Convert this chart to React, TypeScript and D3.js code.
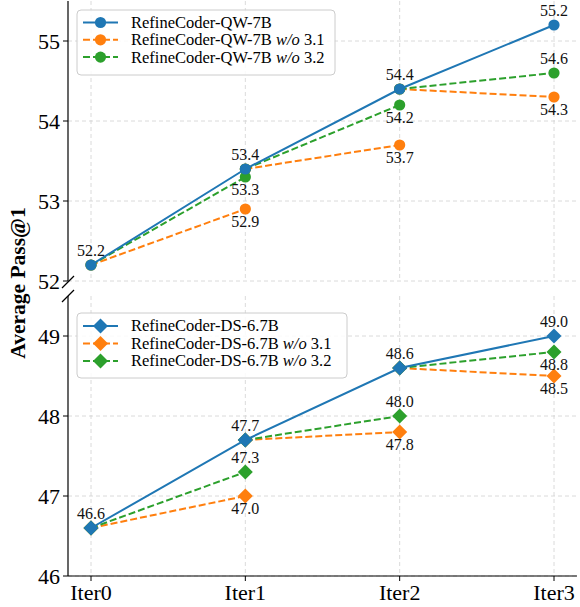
import React from "react";
import * as d3 from "d3";

const iters = ["Iter0", "Iter1", "Iter2", "Iter3"];
const qwFull = [52.2, 53.4, 54.4, 55.2];
const qwNo31 = [52.9, 53.7, 54.3];
const qwNo32 = [53.3, 54.2, 54.6];
const dsFull = [46.6, 47.7, 48.6, 49.0];
const dsNo31 = [47.0, 47.8, 48.5];
const dsNo32 = [47.3, 48.0, 48.8];
const qwTicks = [52, 53, 54, 55];
const dsTicks = [46, 47, 48, 49];
const qwLegend = ["RefineCoder-QW-7B", "RefineCoder-QW-7B", "RefineCoder-QW-7B"];
const dsLegend = ["RefineCoder-DS-6.7B", "RefineCoder-DS-6.7B", "RefineCoder-DS-6.7B"];
const legendSuffix = ["", "3.1", "3.2"];
// label placement: 1 = above, -1 = below
const qwNo32Pos = [-1, -1, 1];
const dsNo32Pos = [1, 1, -1];

const BLUE = "#1f77b4";
const ORANGE = "#ff7f0e";
const GREEN = "#2ca02c";
const FONT = "'Liberation Serif', 'Times New Roman', serif";

const W = 580;
const H = 607;
const left = 68;
const right = 577;

const x = d3.scalePoint<string>().domain(iters).range([91, 554]);
const yTop = d3.scaleLinear().domain([52, 55.5]).range([281, 1]);
const yBot = d3.scaleLinear().domain([46, 49.5]).range([576, 296]);

type Shape = "circle" | "diamond";

function Marker({ cx, cy, color, shape }: { cx: number; cy: number; color: string; shape: Shape }) {
  if (shape === "circle") return <circle cx={cx} cy={cy} r={5.6} fill={color} />;
  const s = 7.5;
  return (
    <path
      d={`M${cx},${cy - s}L${cx + s},${cy}L${cx},${cy + s}L${cx - s},${cy}Z`}
      fill={color}
    />
  );
}

const DASH = "7,3";

function Panel({
  y,
  full,
  no31,
  no32,
  no32Pos,
  ticks,
  top,
  bottom,
  shape,
  legend,
  legendBox,
}: {
  y: d3.ScaleLinear<number, number>;
  full: number[];
  no31: number[];
  no32: number[];
  no32Pos: number[];
  ticks: number[];
  top: number;
  bottom: number;
  shape: Shape;
  legend: string[];
  legendBox: { x: number; y: number; w: number; h: number; step: number; first: number };
}) {
  const line = d3
    .line<number>()
    .x((_, i) => x(iters[i])!)
    .y((d) => y(d));
  const fmt = d3.format(".1f");
  const abl = [
    { data: no31, color: ORANGE, pos: no31.map(() => -1) },
    { data: no32, color: GREEN, pos: no32Pos },
  ];
  const colors = [BLUE, ORANGE, GREEN];
  return (
    <g>
      {/* grid */}
      {ticks.map((t) => (
        <line key={"gy" + t} x1={left} x2={right} y1={y(t)} y2={y(t)} stroke="#d0d0d0" strokeWidth={0.8} strokeDasharray="4,3" />
      ))}
      {iters.map((it) => (
        <line key={"gx" + it} x1={x(it)} x2={x(it)} y1={top} y2={bottom} stroke="#d0d0d0" strokeWidth={0.8} strokeDasharray="4,3" />
      ))}
      {/* ablation segments */}
      {abl.map((a, k) =>
        a.data.map((v, i) => {
          const x0 = x(iters[i])!;
          const x1 = x(iters[i + 1])!;
          return (
            <g key={"s" + k + i}>
              <line x1={x0} y1={y(full[i])} x2={x1} y2={y(v)} stroke={a.color} strokeWidth={2} strokeDasharray={DASH} />
              <Marker cx={x0} cy={y(full[i])} color={a.color} shape={shape} />
              <Marker cx={x1} cy={y(v)} color={a.color} shape={shape} />
            </g>
          );
        })
      )}
      {/* main line */}
      <path d={line(full)!} fill="none" stroke={BLUE} strokeWidth={2} />
      {full.map((v, i) => (
        <Marker key={"m" + i} cx={x(iters[i])!} cy={y(v)} color={BLUE} shape={shape} />
      ))}
      {/* labels */}
      <g fontFamily={FONT} fontSize={16} textAnchor="middle" fill="#111">
        {full.map((v, i) => (
          <text key={"lf" + i} x={x(iters[i])!} y={y(v) - 9}>
            {fmt(v)}
          </text>
        ))}
        {abl.map((a, k) =>
          a.data.map((v, i) => (
            <text key={"la" + k + i} x={x(iters[i + 1])!} y={a.pos[i] > 0 ? y(v) - 9 : y(v) + 18}>
              {fmt(v)}
            </text>
          ))
        )}
      </g>
      {/* left spine & ticks */}
      <line x1={left} x2={left} y1={top} y2={bottom} stroke="#000" strokeWidth={1.2} />
      {ticks.map((t) => (
        <g key={"t" + t}>
          <line x1={left - 5} x2={left} y1={y(t)} y2={y(t)} stroke="#000" strokeWidth={1} />
          <text x={left - 8} y={y(t)} dy="0.35em" textAnchor="end" fontFamily={FONT} fontSize={22} fill="#000">
            {t}
          </text>
        </g>
      ))}
      {/* legend */}
      <g>
        <rect x={legendBox.x} y={legendBox.y} width={legendBox.w} height={legendBox.h} rx={4} fill="#fff" fillOpacity={0.85} stroke="#cccccc" strokeWidth={1} />
        {legend.map((name, i) => {
          const ly = legendBox.y + legendBox.first + i * legendBox.step;
          return (
            <g key={"lg" + i}>
              <line x1={legendBox.x + 6} x2={legendBox.x + 41} y1={ly} y2={ly} stroke={colors[i]} strokeWidth={2} strokeDasharray={i === 0 ? undefined : DASH} />
              <Marker cx={legendBox.x + 23.5} cy={ly} color={colors[i]} shape={shape} />
              <text x={legendBox.x + 54} y={ly} dy="0.33em" fontFamily={FONT} fontSize={16.5} fill="#000">
                {name}
                {legendSuffix[i] && (
                  <>
                    {" "}
                    <tspan fontStyle="italic">w/o</tspan> {legendSuffix[i]}
                  </>
                )}
              </text>
            </g>
          );
        })}
      </g>
    </g>
  );
}

export default function App() {
  return (
    <svg width={W} height={H} style={{ position: "absolute", left: 0, top: 0, background: "#fff" }}>
      <rect width={W} height={H} fill="#fff" />
      <Panel
        y={yTop}
        full={qwFull}
        no31={qwNo31}
        no32={qwNo32}
        no32Pos={qwNo32Pos}
        ticks={qwTicks}
        top={1}
        bottom={281}
        shape="circle"
        legend={qwLegend}
        legendBox={{ x: 77, y: 10, w: 258, h: 65, step: 17.3, first: 12.5 }}
      />
      <Panel
        y={yBot}
        full={dsFull}
        no31={dsNo31}
        no32={dsNo32}
        no32Pos={dsNo32Pos}
        ticks={dsTicks}
        top={296}
        bottom={576}
        shape="diamond"
        legend={dsLegend}
        legendBox={{ x: 77, y: 313, w: 270, h: 65, step: 17.5, first: 13 }}
      />
      {/* bottom spine & x ticks */}
      <line x1={left} x2={right} y1={576} y2={576} stroke="#000" strokeWidth={1.2} />
      {iters.map((it) => (
        <g key={"xt" + it}>
          <line x1={x(it)} x2={x(it)} y1={576} y2={581} stroke="#000" strokeWidth={1} />
          <text x={x(it)} y={600} textAnchor="middle" fontFamily={FONT} fontSize={22} fill="#000">
            {it}
          </text>
        </g>
      ))}
      {/* break marks */}
      <line x1={left - 6} x2={left + 6} y1={282 + 6} y2={282 - 6} stroke="#000" strokeWidth={1.2} />
      <line x1={left - 6} x2={left + 6} y1={296 + 6} y2={296 - 6} stroke="#000" strokeWidth={1.2} />
      {/* y label */}
      <text
        transform={`translate(25,283) rotate(-90)`}
        textAnchor="middle"
        fontFamily={FONT}
        fontSize={21.5}
        fontWeight="bold"
        fill="#000"
      >
        Average Pass@1
      </text>
    </svg>
  );
}
